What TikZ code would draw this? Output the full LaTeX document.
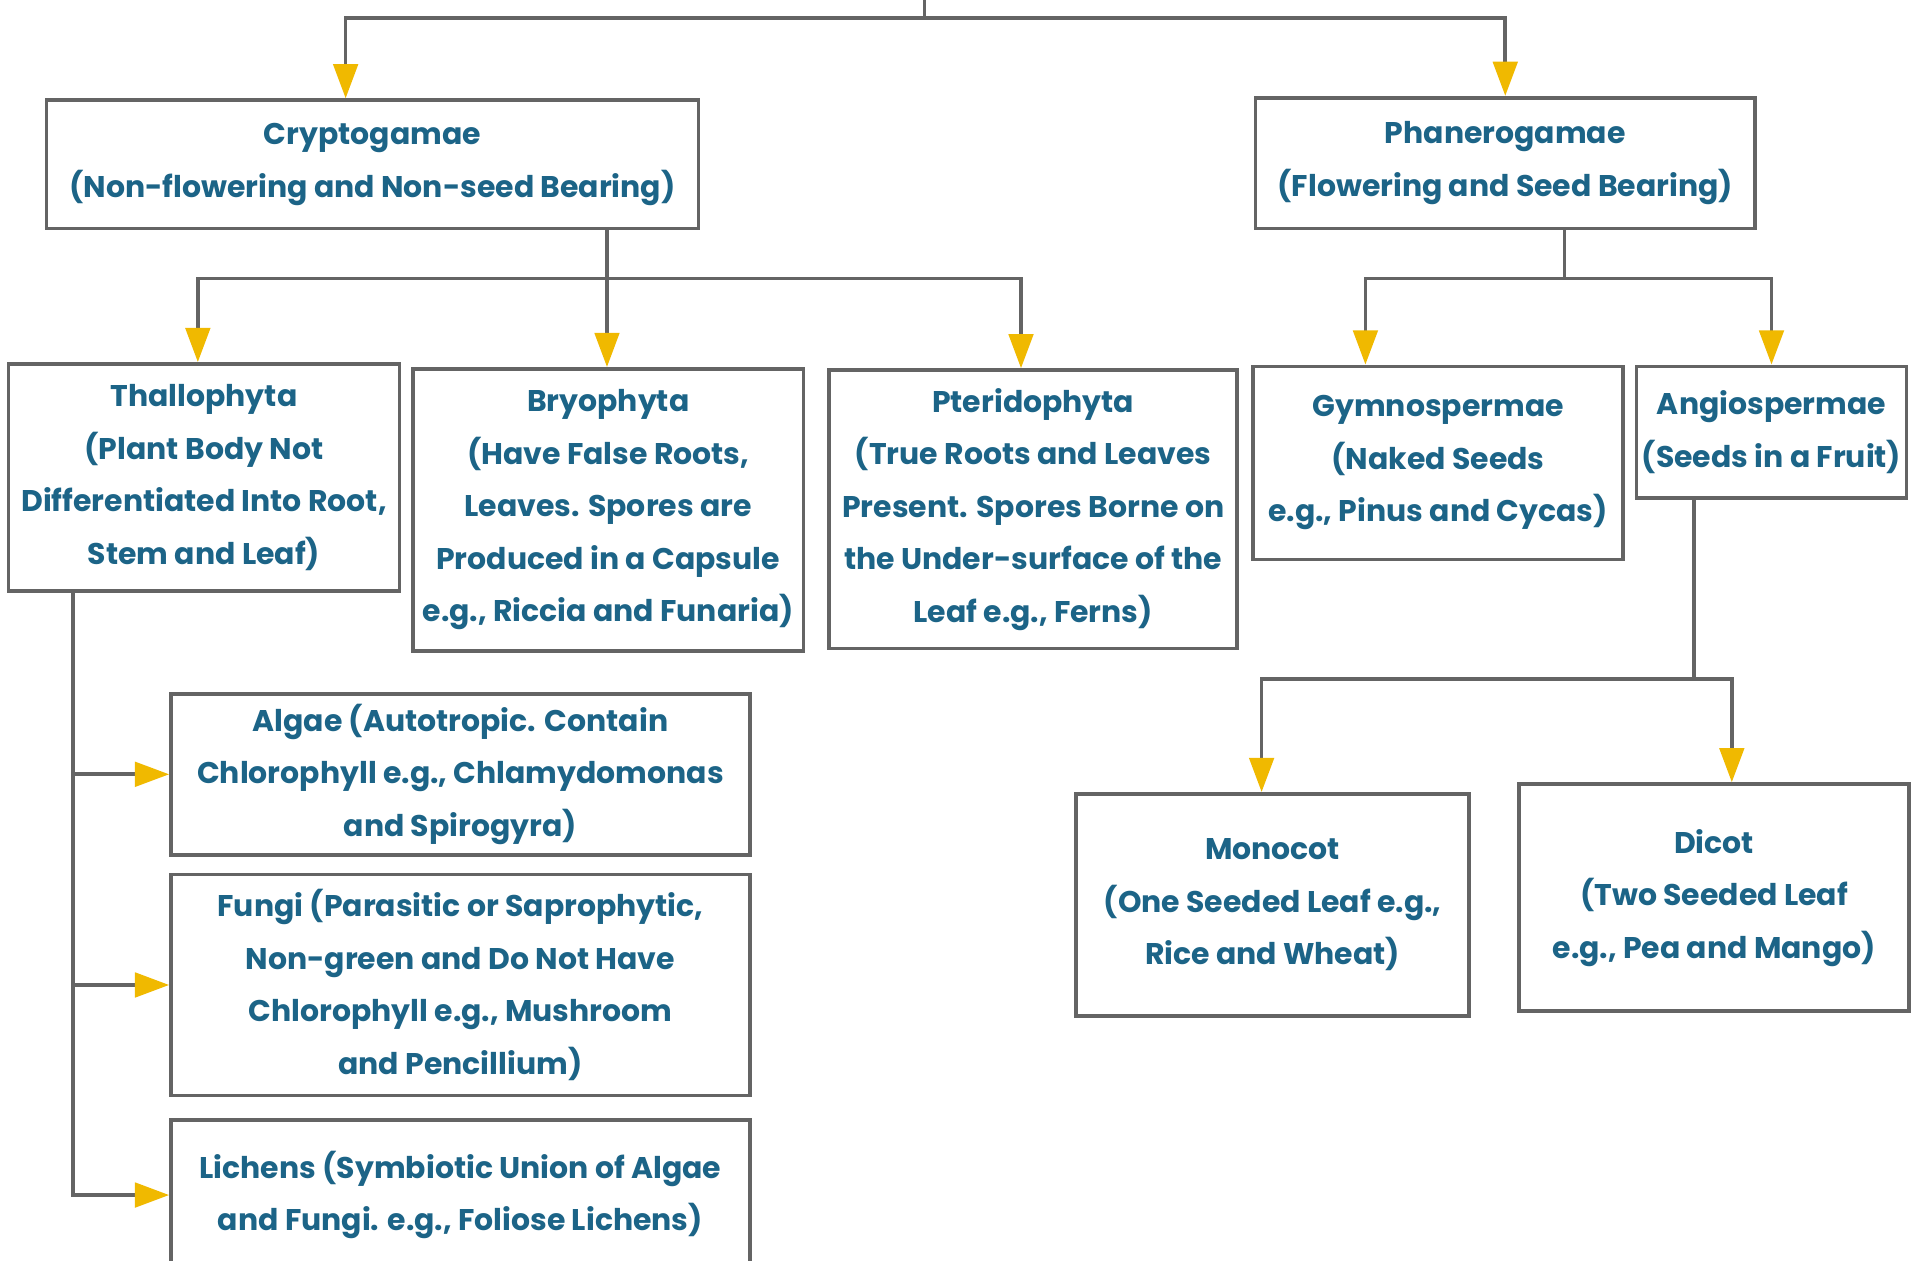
\documentclass[tikz,border=0pt]{standalone}
\usepackage{fontspec}
\setmainfont{Poppins}
\usetikzlibrary{arrows.meta}
\definecolor{txt}{RGB}{28,100,135}
\definecolor{gold}{RGB}{240,185,0}
\definecolor{edge}{RGB}{100,100,100}
\begin{document}
\begin{tikzpicture}[x=1pt,y=-1pt,
  box/.style={draw=edge,line width=3pt,fill=white,align=center,text=txt,inner sep=0pt,
    font=\fontsize{24.5}{43}\selectfont\bfseries},
  line/.style={draw=edge,line width=3pt},
  arr/.style={line,-{Triangle[width=20pt,length=28pt,color=gold]}}]
\useasboundingbox (0,0) rectangle (1568,1032);
\clip (0,0) rectangle (1568,1032);
\fill[white] (0,0) rectangle (1568,1032);
% boxes
\node[box,minimum width=534pt,minimum height=105pt] (crypt) at (305,134.5) {Cryptogamae\\(Non-flowering and Non-seed Bearing)};
\node[box,minimum width=409pt,minimum height=107pt] (phan) at (1232.5,133.5) {Phanerogamae\\(Flowering and Seed Bearing)};
\node[box,minimum width=320pt,minimum height=186pt] (thal) at (167,391) {Thallophyta\\(Plant Body Not\\Differentiated Into Root,\\Stem and Leaf)};
\node[box,minimum width=320pt,minimum height=231pt] (bryo) at (498,417.5) {Bryophyta\\(Have False Roots,\\Leaves. Spores are\\Produced in a Capsule\\e.g., Riccia and Funaria)};
\node[box,minimum width=334pt,minimum height=228pt] (pter) at (846,417) {Pteridophyta\\(True Roots and Leaves\\Present. Spores Borne on\\the Under-surface of the\\Leaf e.g., Ferns)};
\node[box,minimum width=303pt,minimum height=158pt] (gymno) at (1177.5,379) {Gymnospermae\\(Naked Seeds\\e.g., Pinus and Cycas)};
\node[box,minimum width=221pt,minimum height=108pt] (angio) at (1450.5,354) {Angiospermae\\(Seeds in a Fruit)};
\node[box,minimum width=474pt,minimum height=132pt] (algae) at (377,634) {Algae (Autotropic. Contain\\Chlorophyll e.g., Chlamydomonas\\and Spirogyra)};
\node[box,minimum width=474pt,minimum height=181pt] (fungi) at (377,806.5) {Fungi (Parasitic or Saprophytic,\\Non-green and Do Not Have\\Chlorophyll e.g., Mushroom\\and Pencillium)};
\node[box,minimum width=474pt,minimum height=123pt] (lich) at (377,978.5) {Lichens (Symbiotic Union of Algae\\and Fungi. e.g., Foliose Lichens)};
\node[box,minimum width=322pt,minimum height=182pt] (mono) at (1042,741) {Monocot\\(One Seeded Leaf e.g.,\\Rice and Wheat)};
\node[box,minimum width=319pt,minimum height=186pt] (dicot) at (1403.5,735) {Dicot\\(Two Seeded Leaf\\e.g., Pea and Mango)};
% connector points
\coordinate (top) at (757,0);
\coordinate (bar0) at (757,15);
\coordinate (cryptin) at ([xshift=-22pt]crypt.north);
\coordinate (cryptout) at ([xshift=192pt]crypt.south);
\coordinate (bar1) at (497,228);
\coordinate (thalin) at ([xshift=-5pt]thal.north);
\coordinate (pterin) at ([xshift=-10pt]pter.north);
\coordinate (phanout) at ([xshift=48.5pt]phan.south);
\coordinate (bar2) at (1281,228);
\coordinate (gymnoin) at ([xshift=-59.5pt]gymno.north);
\coordinate (thalout) at ([xshift=-107pt]thal.south);
\coordinate (angioout) at ([xshift=-63.5pt]angio.south);
\coordinate (bar3) at (1387,556);
\coordinate (monoin) at ([xshift=-9pt]mono.north);
\coordinate (dicotin) at ([xshift=14.5pt]dicot.north);
% connectors
\draw[line] (top) -- (bar0);
\draw[arr] (bar0) -| (cryptin);
\draw[arr] (bar0) -| (phan.north);
\draw[line] (cryptout) -- (bar1);
\draw[arr] (bar1) -| (thalin);
\draw[arr] (bar1) -- (bar1 |- bryo.north);
\draw[arr] (bar1) -| (pterin);
\draw[line] (phanout) -- (bar2);
\draw[arr] (bar2) -| (gymnoin);
\draw[arr] (bar2) -| (angio.north);
\draw[arr] (thalout) |- (algae.west);
\draw[arr] (thalout) |- (fungi.west);
\draw[arr] (thalout) |- (lich.west);
\draw[line] (angioout) -- (bar3);
\draw[arr] (bar3) -| (monoin);
\draw[arr] (bar3) -| (dicotin);
\end{tikzpicture}
\end{document}
